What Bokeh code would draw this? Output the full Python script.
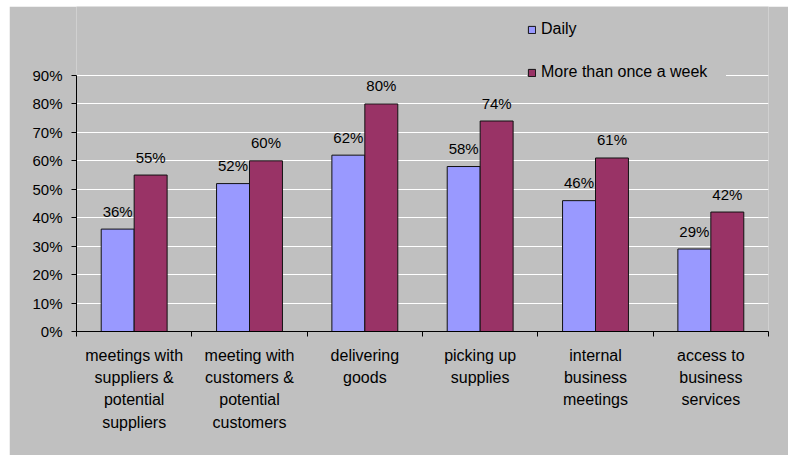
from bokeh.plotting import figure
from bokeh.models import (ColumnDataSource, Range1d, FixedTicker, PrintfTickFormatter,
                          Legend, LegendItem)
from bokeh.transform import dodge
from bokeh.core.properties import value
from bokeh.embed import file_html
from bokeh.resources import INLINE

categories = [
    "meetings with\nsuppliers &\npotential\nsuppliers",
    "meeting with\ncustomers &\npotential\ncustomers",
    "delivering\ngoods",
    "picking up\nsupplies",
    "internal\nbusiness\nmeetings",
    "access to\nbusiness\nservices",
]
daily = [36, 52, 62, 58, 46, 29]
weekly = [55, 60, 80, 74, 61, 42]
y_ticks = [0, 10, 20, 30, 40, 50, 60, 70, 80, 90]

FONT = "Liberation Sans"
BG = "#C0C0C0"
BLUE = "#9999FF"
MAROON = "#993366"

n = len(categories)
centers = [i + 0.5 for i in range(n)]
bw = 1 / 3.5

src = ColumnDataSource(dict(
    xc=centers,
    daily=daily,
    weekly=weekly,
    daily_lbl=[f"{v}%" for v in daily],
    weekly_lbl=[f"{v}%" for v in weekly],
))

# frame spans from top of chart area to the 0% line; y axis drawn only 0..90
y_top = 90 + 69 / (256 / 90)
p = figure(width=779, height=449, output_backend="svg", toolbar_location=None,
           x_range=Range1d(0, n), y_range=Range1d(0, y_top),
           min_border_left=67, min_border_right=20, min_border_top=0, min_border_bottom=124)
p.margin = (6, 0, 0, 9)
p.background_fill_color = BG
p.border_fill_color = BG
p.outline_line_color = None

r1 = p.vbar(x=dodge("xc", -bw / 2), top="daily", width=bw, bottom=0, source=src,
            fill_color=BLUE, line_color="#111111", line_width=1)
r2 = p.vbar(x=dodge("xc", bw / 2), top="weekly", width=bw, bottom=0, source=src,
            fill_color=MAROON, line_color="#111111", line_width=1)

for col, off in (("daily", -bw / 2), ("weekly", bw / 2)):
    p.text(x=dodge("xc", off), y=col, text=col + "_lbl", source=src,
           text_align="center", text_baseline="middle", y_offset=-18,
           text_font=value(FONT), text_font_size="15px", text_color="#000000")

# y axis
p.yaxis.ticker = FixedTicker(ticks=y_ticks)
p.yaxis.bounds = (0, 90)
p.yaxis.formatter = PrintfTickFormatter(format="%d%%")
p.yaxis.major_label_text_font = FONT
p.yaxis.major_label_text_font_size = "15px"
p.yaxis.major_label_text_color = "#000000"
p.yaxis.major_tick_in = 0
p.yaxis.major_tick_out = 5
p.yaxis.minor_tick_line_color = None
p.yaxis.major_label_standoff = 9
p.yaxis.axis_line_color = "#000000"
p.yaxis.major_tick_line_color = "#000000"

# x axis: labels at centers, ticks at boundaries
p.xaxis.ticker = FixedTicker(ticks=centers, minor_ticks=list(range(n + 1)))
p.xaxis.major_label_overrides = {c: lab for c, lab in zip(centers, categories)}
p.xaxis.major_tick_in = 0
p.xaxis.major_tick_out = 0
p.xaxis.minor_tick_in = 0
p.xaxis.minor_tick_out = 5
p.xaxis.minor_tick_line_color = "#000000"
p.xaxis.axis_line_color = "#000000"
p.xaxis.major_label_text_font = FONT
p.xaxis.major_label_text_font_size = "16px"
p.xaxis.major_label_text_color = "#000000"
p.xaxis.major_label_text_line_height = 1.32
p.xaxis.major_label_standoff = 10

p.xgrid.grid_line_color = None
p.ygrid.grid_line_color = "#FFFFFF"
p.ygrid.grid_line_width = 1

legend = Legend(items=[LegendItem(label="Daily", renderers=[r1]),
                       LegendItem(label="More than once a week", renderers=[r2])],
                location=(451, 249), orientation="vertical",
                background_fill_color=BG, background_fill_alpha=1.0,
                border_line_color=None,
                label_text_font=FONT, label_text_font_size="16px",
                label_text_color="#000000",
                glyph_width=9, glyph_height=9, label_standoff=5,
                padding=22, spacing=23, label_height=20, label_width=185, margin=0)
p.add_layout(legend, "center")

open("out.html", "w").write(file_html(p, INLINE))
